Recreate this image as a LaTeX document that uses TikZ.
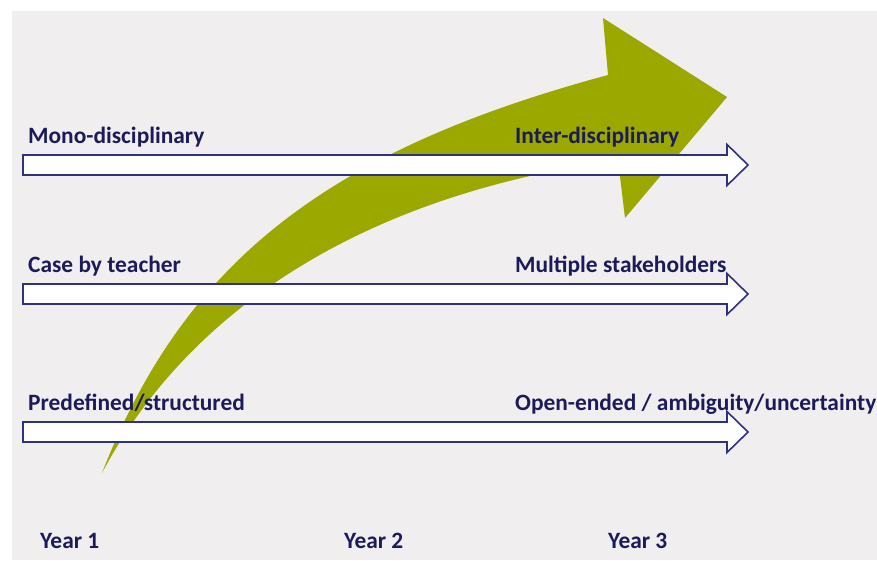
\documentclass[tikz,border=0pt]{standalone}
\usepackage{fontspec}
\setmainfont{Carlito}
\usetikzlibrary{positioning}
\definecolor{OLIVE}{RGB}{155,168,0}
\definecolor{NAVY}{RGB}{27,27,90}
\definecolor{EDGE}{RGB}{48,48,128}
\definecolor{BACK}{RGB}{240,238,239}
\tikzset{
  lab/.style={font=\fontsize{23.4}{28}\selectfont\bfseries, text=NAVY, inner sep=0pt, anchor=base west},
  shaft/.style={draw=EDGE, line width=1.6pt, fill=white, line join=miter},
}

\begin{document}
\begin{tikzpicture}[x=1pt,y=-1pt]
\useasboundingbox (0,0) rectangle (877,560);
\fill[BACK] (12,11) rectangle (877,560);
% big curved arrow
\fill[OLIVE] (102,473) .. controls (185,260) and (330,150) .. (608,75) -- (603,18) -- (727,97) -- (625,218) -- (618,160) .. controls (330,200) and (175,335) .. (102,473) -- cycle;
% block arrows with their labels
\foreach \y/\lft/\rgt/\n in {165/Mono-disciplinary/Inter-disciplinary/mono, 294/Case by teacher/Multiple stakeholders/case, 432/{Predefined/structured}/{Open-ended / ambiguity/uncertainty}/open}
{
\draw[shaft] (23,\y-10) -- (727,\y-10) -- (727,\y-20.5) -- (748,\y) -- (727,\y+20.5) -- (727,\y+10) -- (23,\y+10) -- cycle;
\node[lab] (\n-from) at (28,\y-22) {\lft};
\node[lab] (\n-to) at (515,\y-22) {\rgt};
}
% years
\node[lab] (year1) at (40,548) {Year 1};
\node[lab] (year2) at (344,548) {Year 2};
\node[lab] (year3) at (608,548) {Year 3};
\end{tikzpicture}
\end{document}
